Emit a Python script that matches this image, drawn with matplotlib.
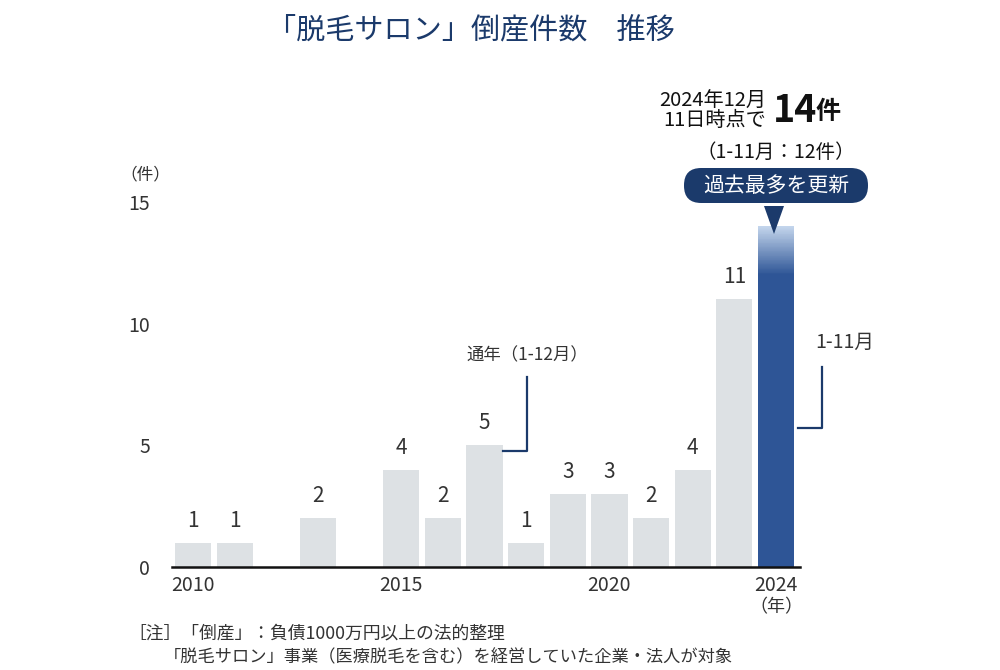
import matplotlib
matplotlib.use("Agg")
import matplotlib.pyplot as plt
import numpy as np
from matplotlib.colors import LinearSegmentedColormap
from matplotlib.patches import FancyBboxPatch, Polygon

plt.rcParams['font.family'] = ['Noto Sans CJK JP', 'DejaVu Sans']

years = [2010, 2011, 2012, 2013, 2014, 2015, 2016, 2017, 2018, 2019, 2020, 2021, 2022, 2023, 2024]
counts = [1, 1, 0, 2, 0, 4, 2, 5, 1, 3, 3, 2, 4, 11, 14]
count_2024_nov = 12
tick_years = [2010, 2015, 2020, 2024]
yticks = [0, 5, 10, 15]

gray = '#dde1e4'
blue = '#2e5596'
navy = '#1b3a6b'
txt = '#333333'

W, H = 1000, 670
fig = plt.figure(figsize=(10, 6.7), dpi=100)

def fx(px):
    return px / W

def fy(py):
    return 1 - py / H

# axes: x 172..800 px, y 202..567 px
ax = fig.add_axes([fx(172), fy(567), fx(800) - fx(172), fy(202) - fy(567)])
bw = 0.87

past_years = years[:-1]
past_counts = counts[:-1]
ax.bar(past_years, past_counts, width=bw, color=gray, zorder=2)
# 2024: solid up to Nov, gradient for the December part
ax.bar(years[-1], count_2024_nov, width=bw, color=blue, zorder=2)
cmap = LinearSegmentedColormap.from_list('g', [blue, '#c3d5ec'])
nseg = 60
edges = np.linspace(count_2024_nov, counts[-1], nseg + 1)
for i in range(nseg):
    ax.bar(years[-1], edges[i + 1] - edges[i], bottom=edges[i], width=bw,
           color=cmap(i / (nseg - 1)), lw=0, zorder=2)

for yr, c in zip(past_years, past_counts):
    if c > 0:
        ax.text(yr, c + 0.45, str(c), ha='center', va='bottom', fontsize=15, color=txt)

ax.set_xlim(2009.495, 2024.577)
ax.set_ylim(0, 15)
ax.axhline(0, color='#111111', lw=1.8, zorder=3, clip_on=False)
for s in ax.spines.values():
    s.set_visible(False)
ax.set_xticks(tick_years)
ax.set_xticklabels([str(t) for t in tick_years], fontsize=14, color=txt)
ax.set_yticks(yticks)
ax.set_yticklabels([str(t) for t in yticks], fontsize=14, color=txt)
ax.tick_params(length=0, pad=6)
ax.tick_params(axis='y', pad=16)

fig.text(fx(776), fy(607), '（年）', ha='center', va='center', fontsize=13, color=txt)
fig.text(fx(145), fy(175), '（件）', ha='center', va='center', fontsize=12, color=txt)

# title
fig.text(fx(471), fy(30), '「脱毛サロン」倒産件数　推移', ha='center', va='center',
         fontsize=21, color=navy)

# 通年 bracket
fig.text(fx(527), fy(355), '通年（1-12月）', ha='center', va='center', fontsize=12.5, color=txt)
fig.add_artist(plt.Line2D([fx(527), fx(527), fx(503)], [fy(377), fy(451), fy(451)],
                          color=navy, lw=1.6))
# 1-11月 bracket
fig.text(fx(845), fy(342), '1-11月', ha='center', va='center', fontsize=14, color=txt)
fig.add_artist(plt.Line2D([fx(822), fx(822), fx(798)], [fy(367), fy(428), fy(428)],
                          color=navy, lw=1.6))

# callout pill
box = FancyBboxPatch((fx(684), fy(203)), fx(868) - fx(684), fy(168) - fy(203),
                     boxstyle='round,pad=0,rounding_size=0.0172', transform=fig.transFigure,
                     facecolor=navy, edgecolor='none', mutation_aspect=1.0 / 0.67)
fig.add_artist(box)
fig.text(fx(776), fy(186), '過去最多を更新', ha='center', va='center', fontsize=15,
         color='white')
tri = Polygon([[fx(764), fy(206)], [fx(784), fy(206)], [fx(774), fy(234)]],
              closed=True, transform=fig.transFigure, facecolor=navy, edgecolor='none')
fig.add_artist(tri)

fig.text(fx(776), fy(152), '（1-11月：12件）', ha='center', va='center', fontsize=14, color='#111111')
fig.text(fx(766), fy(101), '2024年12月', ha='right', va='center', fontsize=14.5, color='#111111')
fig.text(fx(766), fy(121), '11日時点で', ha='right', va='center', fontsize=14.5, color='#111111')
fig.text(fx(773), fy(110), '14', ha='left', va='center', fontsize=27, fontweight='bold', color='#111111')
fig.text(fx(815), fy(112), '件', ha='left', va='center', fontsize=18, fontweight='bold', color='#111111')

# notes
fig.text(fx(128), fy(634), '［注］「倒産」：負債1000万円以上の法的整理', ha='left', va='center',
         fontsize=12.8, color=txt)
fig.text(fx(164), fy(657), '「脱毛サロン」事業（医療脱毛を含む）を経営していた企業・法人が対象', ha='left',
         va='center', fontsize=12.4, color=txt)

fig.savefig('out.png', dpi=100)
